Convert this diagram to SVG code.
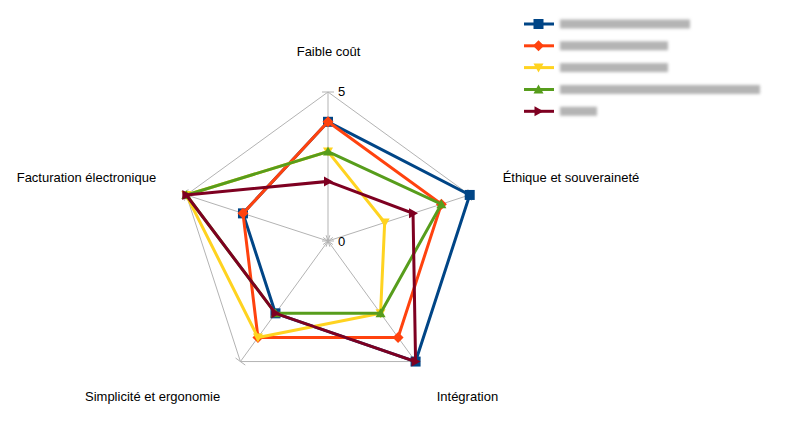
<svg xmlns="http://www.w3.org/2000/svg" width="801" height="435" viewBox="0 0 801 435">
<style>
text{font-family:"Liberation Sans",Arial,sans-serif;font-size:13px;fill:#000}
.grid{fill:none;stroke:#b3b3b3;stroke-width:1}
.s{fill:none;stroke-width:3;stroke-linejoin:miter}
.blur{fill:#b4b4b4;filter:url(#bl)}
</style>
<defs>
<filter id="bl" x="-20%" y="-100%" width="140%" height="300%"><feGaussianBlur stdDeviation="1.6"/></filter>
<marker id="m1" markerUnits="userSpaceOnUse" markerWidth="12" markerHeight="12" refX="6" refY="6" overflow="visible"><rect x="1" y="1" width="10" height="10" fill="#004586"/></marker>
<marker id="m2" markerUnits="userSpaceOnUse" markerWidth="12" markerHeight="12" refX="6" refY="6" overflow="visible"><polygon points="6,0.5 11.5,6 6,11.5 0.5,6" fill="#ff420e"/></marker>
<marker id="m3" markerUnits="userSpaceOnUse" markerWidth="12" markerHeight="12" refX="6" refY="6" overflow="visible"><polygon points="1,2 11,2 6,11" fill="#ffd320"/></marker>
<marker id="m4" markerUnits="userSpaceOnUse" markerWidth="12" markerHeight="12" refX="6" refY="6" overflow="visible"><polygon points="1,10 11,10 6,1" fill="#579d1c"/></marker>
<marker id="m5" markerUnits="userSpaceOnUse" markerWidth="12" markerHeight="12" refX="6" refY="6" overflow="visible"><polygon points="2,1 11,6 2,11" fill="#7e0021"/></marker>
</defs>
<rect width="801" height="435" fill="#fff"/>
<g id="grid">
<polygon class="grid" points="328,92 469.71,194.95 415.58,361.55 240.42,361.55 186.29,194.95"/>
<path class="grid" d="M328,241L328,92M328,241L469.71,194.95M328,241L415.58,361.55M328,241L240.42,361.55M328,241L186.29,194.95"/>
<path class="grid" d="M322,92H334M322,241H334M467.86,189.24L471.56,200.66M326.15,235.29L329.85,246.71M420.43,358.02L410.73,365.08M332.85,237.47L323.15,244.53M245.27,365.08L235.57,358.02M332.85,244.53L323.15,237.47M184.44,200.66L188.14,189.24M326.15,246.71L329.85,235.29"/>
<text x="338" y="96">5</text>
<text x="338" y="246">0</text>
</g>
<g id="axis-labels">
<text x="328.5" y="56" text-anchor="middle">Faible coût</text>
<text x="502.7" y="182">Éthique et souveraineté</text>
<text x="436.7" y="401">Intégration</text>
<text x="85" y="401">Simplicité et ergonomie</text>
<text x="16.7" y="182">Facturation électronique</text>
</g>
<g id="connectors">
<polygon id="series1" class="s" stroke="#004586" marker-start="url(#m1)" marker-mid="url(#m1)" points="328,121.8 469.71,194.95 415.58,361.55 275.45,313.33 242.97,213.37"/>
<polygon id="series2" class="s" stroke="#ff420e" marker-start="url(#m2)" marker-mid="url(#m2)" points="328,121.8 441.37,204.16 398.06,337.44 257.94,337.44 242.97,213.37"/>
<polygon id="series3" class="s" stroke="#ffd320" marker-start="url(#m3)" marker-mid="url(#m3)" points="328,151.6 384.68,222.58 380.55,313.33 257.94,337.44 186.29,194.95"/>
<polygon id="series4" class="s" stroke="#579d1c" marker-start="url(#m4)" marker-mid="url(#m4)" points="328,151.6 441.37,204.16 380.55,313.33 275.45,313.33 186.29,194.95"/>
<polygon id="series5" class="s" stroke="#7e0021" marker-start="url(#m5)" marker-mid="url(#m5)" points="328,181.4 413.03,213.37 415.58,361.55 275.45,313.33 186.29,194.95"/>
</g>
<g id="legend">
<g id="leg1"><line x1="524" y1="24" x2="554" y2="24" stroke="#004586" stroke-width="3"/><rect x="533.5" y="19" width="10" height="10" fill="#004586"/><rect class="blur" x="560" y="19.5" width="130" height="9"/></g>
<g id="leg2"><line x1="524" y1="45.8" x2="554" y2="45.8" stroke="#ff420e" stroke-width="3"/><polygon points="538.5,40.3 544,45.8 538.5,51.3 533,45.8" fill="#ff420e"/><rect class="blur" x="560" y="41.3" width="108" height="9"/></g>
<g id="leg3"><line x1="524" y1="67.6" x2="554" y2="67.6" stroke="#ffd320" stroke-width="3"/><polygon points="533.5,63.6 543.5,63.6 538.5,72.6" fill="#ffd320"/><rect class="blur" x="560" y="63.1" width="108" height="9"/></g>
<g id="leg4"><line x1="524" y1="89.5" x2="554" y2="89.5" stroke="#579d1c" stroke-width="3"/><polygon points="533.5,93.5 543.5,93.5 538.5,84.5" fill="#579d1c"/><rect class="blur" x="560" y="85" width="200" height="9"/></g>
<g id="leg5"><line x1="524" y1="111.3" x2="554" y2="111.3" stroke="#7e0021" stroke-width="3"/><polygon points="534.5,106.3 543.5,111.3 534.5,116.3" fill="#7e0021"/><rect class="blur" x="560" y="106.8" width="37" height="9"/></g>
</g>
</svg>
